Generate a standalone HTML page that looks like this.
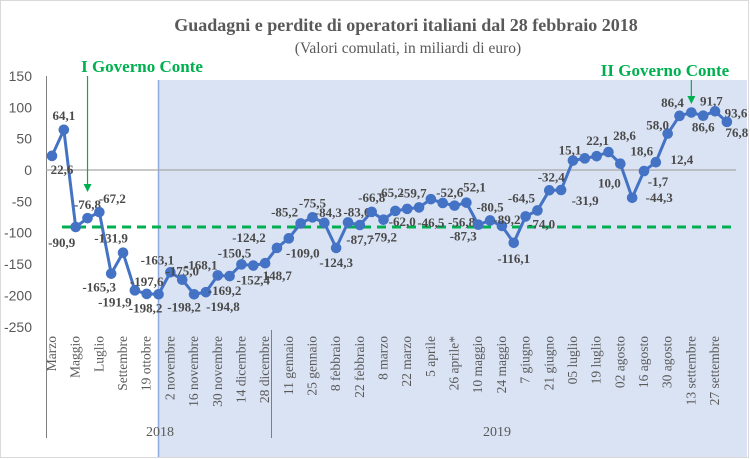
<!DOCTYPE html>
<html><head><meta charset="utf-8"><style>
body{margin:0;background:#fff;}
svg{display:block;font-family:"Liberation Serif",serif;}
</style></head><body>
<svg id="chart" width="750" height="459" viewBox="0 0 750 459">
<rect x="0.5" y="0.5" width="748" height="457" fill="#fff" stroke="#d9d9d9"/>
<rect x="158" y="80" width="589" height="377" fill="#dae3f3"/>
<line x1="158.5" y1="80" x2="158.5" y2="457" stroke="#8faadc" stroke-width="1.5"/>
<text x="406" y="31" text-anchor="middle" font-size="18" font-weight="bold" fill="#595959">Guadagni e perdite di operatori italiani dal 28 febbraio 2018</text>
<text x="408" y="53" text-anchor="middle" font-size="15.5" fill="#595959">(Valori comulati, in miliardi di euro)</text>
<g id="yaxis"></g>
<g id="xaxis"></g>
<g id="marks"></g>
<text x="142" y="72" text-anchor="middle" font-size="17" font-weight="bold" fill="#00b050">I Governo Conte</text>
<text x="665" y="76" text-anchor="middle" font-size="17" font-weight="bold" fill="#00b050">II Governo Conte</text>
</svg>
<script>
const categories=["Marzo","Maggio","Luglio","Settembre","19 ottobre","2 novembre","16 novembre","30 novembre","14 dicembre","28 dicembre","11 gennaio","25 gennaio","8 febbraio","22 febbraio","8 marzo","22 marzo","5 aprile","26 aprile*","10 maggio","24 maggio","7 giugno","21 giugno","05 luglio","19 luglio","02 agosto","16 agosto","30 agosto","13 settembre","27 settembre"];
const values=[22.6,64.1,-90.9,-76.8,-67.2,-165.3,-131.9,-191.9,-197.6,-198.2,-163.1,-175.0,-198.2,-194.8,-168.1,-169.2,-150.5,-152.4,-148.7,-124.2,-109.0,-85.2,-75.5,-84.3,-124.3,-83.6,-87.7,-66.8,-79.2,-65.2,-62.0,-59.7,-46.5,-52.6,-56.8,-52.1,-87.3,-80.5,-89.2,-116.1,-74.0,-64.5,-32.4,-31.9,15.1,18.6,22.1,28.6,10.0,-44.3,-1.7,12.4,58.0,86.4,91.7,86.6,93.6,76.8];
const yTicks=[150,100,50,0,-50,-100,-150,-200,-250];
const referenceValue=-90.9;
const yearLabels=["2018","2019"];
const firstGovIndex=3, secondGovIndex=54;
// label offsets (style)
const lo=[[10,14],[0,-14],[-14,16],[0,-13],[13,-13],[-12,14],[-12,-14],[-20,12],[0,-12],[-13,14],[-13,-12],[0,-8],[-10,13],[17,15],[-17,-10],[-5,15],[-7,-11],[0,15],[10,13],[-28,-10],[14,15],[-16,-11],[0,-14],[4,-10],[0,15],[9,-10],[0,15],[0,-14],[0,18],[-5,-18],[-5,13],[-6,-14],[0,24],[7,-10],[7,17],[6,-15],[-15,12],[0,-13],[5,-6],[0,16],[16,8],[-16,-12],[2,-13],[24,11],[-3,-10],[57,-7],[1,-15],[16,-16],[-11,20],[27,0],[14,11],[26,-2],[-10,-8],[-7,-13],[20,-11],[0,12],[21,2],[10,11]];
const NS="http://www.w3.org/2000/svg";
const x0=52,dx=11.84;
const X=i=>x0+i*dx;
const Y=v=>170-v*0.627;
function mk(tag,attrs,parent){const e=document.createElementNS(NS,tag);for(const k in attrs)e.setAttribute(k,attrs[k]);parent.appendChild(e);return e;}
const ya=document.getElementById('yaxis'),xa=document.getElementById('xaxis'),mg=document.getElementById('marks');
yTicks.forEach(t=>{const e=mk('text',{x:32,y:Y(t)+5,'text-anchor':'end','font-size':14,fill:'#595959','font-family':'Liberation Sans, sans-serif'},ya);


e.textContent=t;});
let l=mk('line',{x1:46.5,y1:76,x2:46.5,y2:438,stroke:'#7f7f7f'},ya);


l=mk('line',{x1:46,y1:Y(0),x2:736,y2:Y(0),stroke:'#a6a6a6','stroke-width':1.2},ya);


categories.forEach((c,k)=>{const x=X(2*k)+4;const e=mk('text',{x:0,y:0,transform:`translate(${x},336) rotate(-90)`,'text-anchor':'end','font-size':13.5,fill:'#595959'},xa);


e.textContent=c;});
l=mk('line',{x1:271.5,y1:330,x2:271.5,y2:438,stroke:'#7f7f7f'},xa);


[[160,yearLabels[0]],[497,yearLabels[1]]].forEach(([x,t])=>{const e=mk('text',{x:x,y:436,'text-anchor':'middle','font-size':14,fill:'#595959'},xa);


e.textContent=t;});
l=mk('line',{x1:62,y1:Y(referenceValue),x2:736,y2:Y(referenceValue),stroke:'#00b050','stroke-width':3,'stroke-dasharray':'9 6'},mg);


const pl=mk('polyline',{points:values.map((v,i)=>X(i)+','+Y(v)).join(' '),fill:'none',stroke:'#4472c4','stroke-width':3,'stroke-linejoin':'round'},mg);


values.forEach((v,i)=>{const c=mk('circle',{cx:X(i),cy:Y(v),r:5.3,fill:'#4472c4'},mg);


const o=lo[i]||[0,-12];
const t=mk('text',{x:X(i)+o[0],y:Y(v)+o[1]+4,'text-anchor':'middle','font-size':13,'font-weight':'bold',fill:'#4a4a4a'},mg);


t.textContent=v.toFixed(1).replace('.',',');});
function arrow(i,y1,y2,name){const x=X(i);const a=mk('line',{x1:x,y1:y1,x2:x,y2:y2-6,stroke:'#00b050','stroke-width':1.2},mg);


const h=mk('path',{d:`M${x-4},${y2-8} L${x},${y2} L${x+4},${y2-8} Z`,fill:'#00b050'},mg);

}
arrow(firstGovIndex,76,192,'first-government-arrow');
arrow(secondGovIndex,80,104,'second-government-arrow');
</script>
</body></html>
